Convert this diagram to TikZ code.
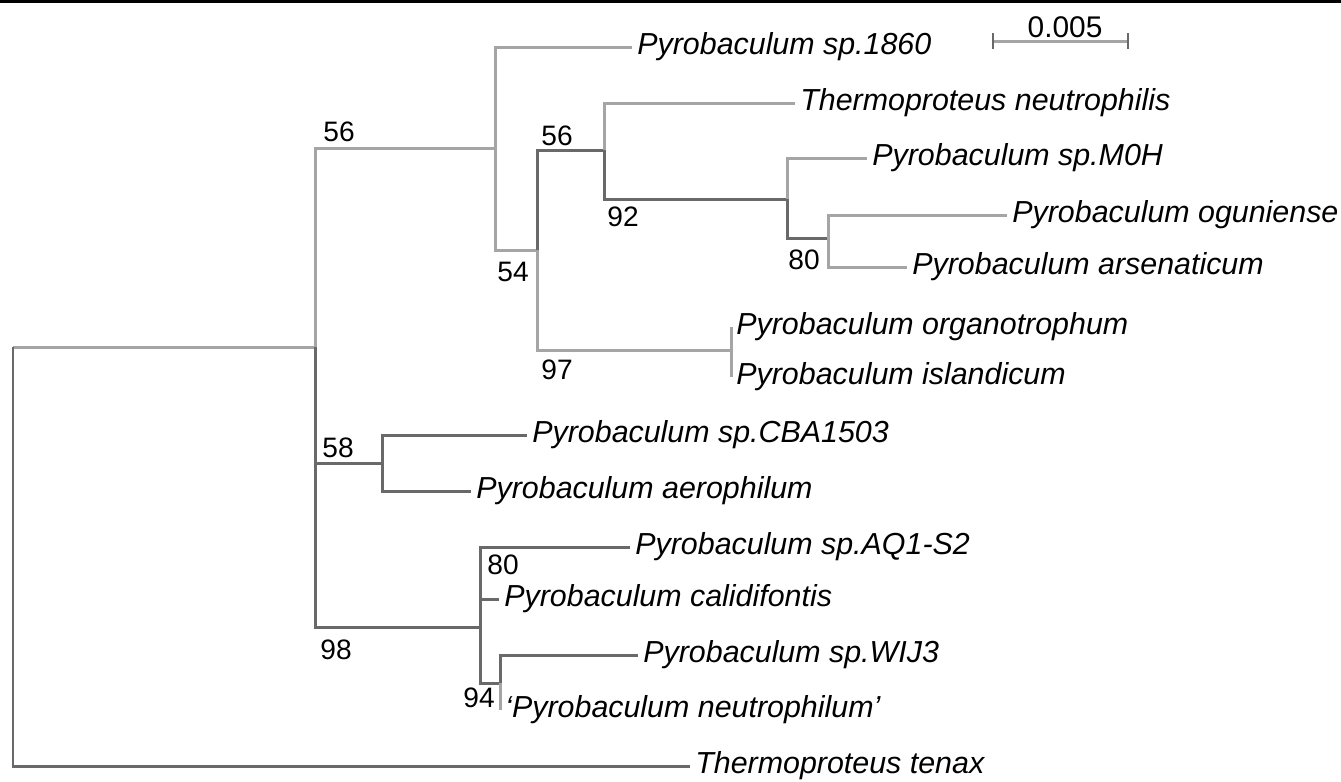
\documentclass[tikz,border=0pt]{standalone}
\usepackage{fontspec}
\setmainfont{Liberation Sans}
\definecolor{brdark}{RGB}{105,105,105}
\definecolor{brlight}{RGB}{165,165,165}

\begin{document}
\begin{tikzpicture}[
x=0.02cm, y=-0.02cm,
leaf/.style={
anchor=west,
inner xsep=0.1cm,
inner ysep=0pt,
font=\fontsize{17.3}{20}\selectfont\itshape
},
boot/.style={
inner sep=0pt,
font=\fontsize{16}{19}\selectfont
},
brd/.style={
draw=brdark,
line width=0.06cm
},
brl/.style={
draw=brlight,
line width=0.06cm
}
]

\useasboundingbox (0,0) rectangle (1341,781);
\draw[line width=0.06cm] (0,1.5) -- (1341,1.5);

\coordinate (root) at (13,347);
\coordinate (A) at (315,347);
\coordinate (B) at (495,148);
\coordinate (C) at (537,250);
\coordinate (D) at (604,150);
\coordinate (E) at (787,199);
\coordinate (F) at (828,238);
\coordinate (G) at (731,350);
\coordinate (H) at (382,463);
\coordinate (I) at (480,627);
\coordinate (J) at (500,683);

\node[leaf] (sp1860) at (632,47) {Pyrobaculum sp.1860};
\node[leaf] (tneutrophilis) at (795,103) {Thermoproteus neutrophilis};
\node[leaf] (spm0h) at (867,158) {Pyrobaculum sp.M0H};
\node[leaf] (oguniense) at (1007,215) {Pyrobaculum oguniense};
\node[leaf] (arsenaticum) at (907,267) {Pyrobaculum arsenaticum};
\node[leaf] (organotrophum) at (731,327) {Pyrobaculum organotrophum};
\node[leaf] (islandicum) at (731,377) {Pyrobaculum islandicum};
\node[leaf] (cba1503) at (527,435) {Pyrobaculum sp.CBA1503};
\node[leaf] (aerophilum) at (471,491) {Pyrobaculum aerophilum};
\node[leaf] (aq1s2) at (630,547) {Pyrobaculum sp.AQ1-S2};
\node[leaf] (calidifontis) at (499,599) {Pyrobaculum calidifontis};
\node[leaf] (wij3) at (638,655) {Pyrobaculum sp.WIJ3};
\node[leaf] (pneutrophilum) at (500,710) {`Pyrobaculum neutrophilum'};
\node[leaf] (tenax) at (690,766) {Thermoproteus tenax};

\node[boot] (bootB) at (339,132) {56};
\node[boot] (bootD) at (557,136) {56};
\node[boot] (bootE) at (623,217) {92};
\node[boot] (bootC) at (513,272) {54};
\node[boot] (bootF) at (804,260) {80};
\node[boot] (bootG) at (557,370) {97};
\node[boot] (bootH) at (338,448) {58};
\node[boot] (bootI) at (336,650) {98};
\node[boot] (bootK) at (503,565) {80};
\node[boot] (bootJ) at (479,698) {94};

\draw[brl] (root) -- (A);
\draw[brd] (root) |- (tenax.west);
\draw[brd] (A) |- (I);
\draw[brd] (A) |- (H);
\draw[brl] (A) |- (B);
\draw[brl] (B) |- (sp1860.west);
\draw[brl] (B) |- (C);
\draw[brl] (C) |- (G);
\draw[brd] (C) |- (D);
\draw[brl] (D) |- (tneutrophilis.west);
\draw[brd] (D) |- (E);
\draw[brl] (E) |- (spm0h.west);
\draw[brd] (E) |- (F);
\draw[brl] (F) |- (oguniense.west);
\draw[brl] (F) |- (arsenaticum.west);
\draw[brl] (G) |- (organotrophum.west);
\draw[brl] (G) |- (islandicum.west);
\draw[brd] (H) |- (cba1503.west);
\draw[brd] (H) |- (aerophilum.west);
\draw[brd] (I) |- (aq1s2.west);
\draw[brd] (I) |- (calidifontis.west);
\draw[brd] (I) |- (J);
\draw[brd] (J) |- (wij3.west);
\draw[brl] (J) |- (pneutrophilum.west);

\coordinate (barL) at (993,41);
\coordinate (barR) at (1128,41);
\draw[brl] (barL) -- (barR);
\draw[brd, line width=0.04cm] (993,33) -- (993,49);
\draw[brd, line width=0.04cm] (1128,33) -- (1128,49);
\node[boot, font=\fontsize{17}{19}\selectfont] (scalelabel) at (1065,27) {0.005};

\end{tikzpicture}
\end{document}
